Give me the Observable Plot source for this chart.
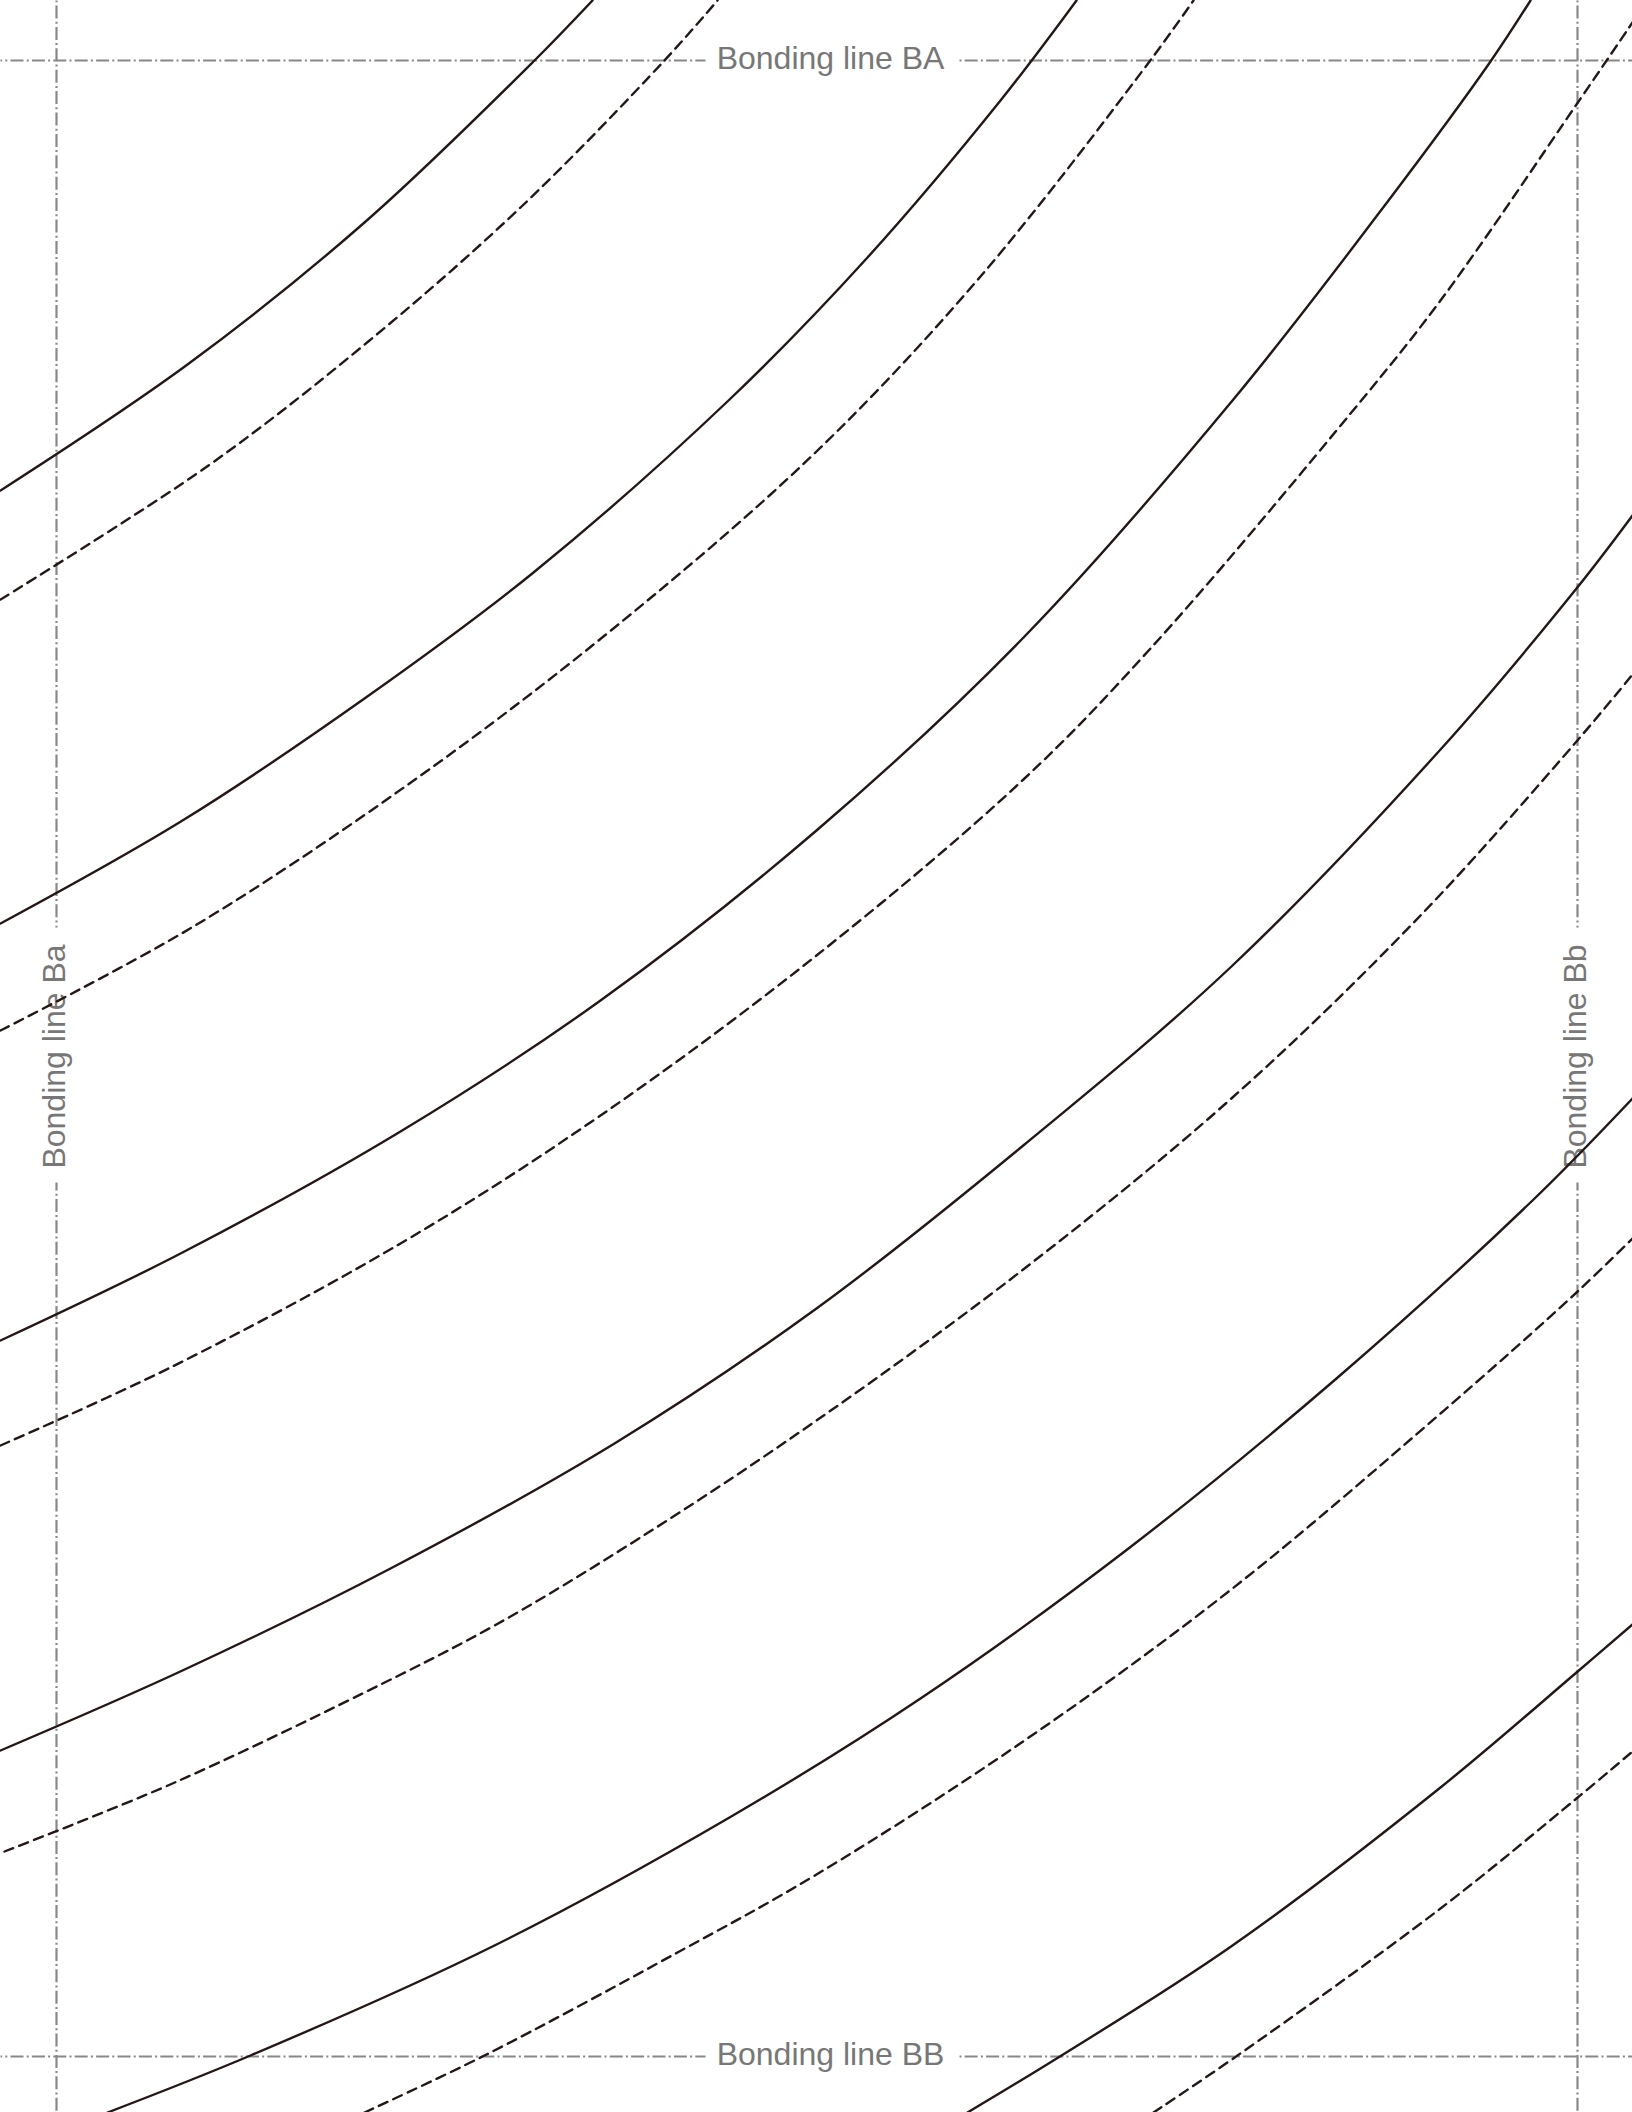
<!DOCTYPE html>
<html><head><meta charset="utf-8">
<script src="https://cdn.jsdelivr.net/npm/d3@7"></script>
<script src="https://cdn.jsdelivr.net/npm/@observablehq/plot@0.6"></script>
<style>html,body{margin:0;padding:0;background:#fff}svg{display:block}</style>
</head><body><div id="chart"></div>
<script>
const solid1X=[0,187,364,533,592];
const solid1Y=[490,364,222,61,0];
const dash1X=[0,208,369,520,663,717];
const dash1Y=[599,465,340,207,61,0];
const solid2X=[0,182,364,533,728,867,1000,1076];
const solid2Y=[923,820,698,572,400,257,100,0];
const dash2X=[0,193,416,619,816,980,1149,1193];
const dash2Y=[1030,926,778,623,451,276,61,0];
const solid3X=[0,182,400,600,816,1024,1232,1388,1490,1530];
const solid3Y=[1340,1252,1131,1000,830,636,400,200,61,0];
const dash3X=[0,172,400,600,816,1024,1150,1336,1440,1576,1632];
const dash3Y=[1445,1366,1243,1115,955,778,648,430,300,104,22];
const solid4X=[0,182,390,614,816,1024,1232,1440,1576,1632];
const solid4Y=[1750,1670,1568,1443,1308,1144,965,749,588,515];
const dash4X=[4,172,364,494,640,816,1024,1232,1420,1576,1632];
const dash4Y=[1851,1783,1692,1625,1537,1420,1268,1097,915,741,674];
const solid5X=[107,250,494,729,920,1128,1336,1532,1632];
const solid5Y=[2112,2055,1945,1817,1698,1548,1378,1200,1098];
const dash5X=[364,484,677,816,1024,1232,1440,1576,1632];
const dash5Y=[2112,2055,1952,1874,1740,1588,1413,1292,1238];
const solid6X=[967,1061,1232,1440,1576,1632];
const solid6Y=[2112,2055,1945,1787,1672,1624];
const dash6X=[1153,1237,1440,1576,1632];
const dash6Y=[2112,2055,1908,1798,1751];

const solidCurves=[[solid1X,solid1Y],[solid2X,solid2Y],[solid3X,solid3Y],[solid4X,solid4Y],[solid5X,solid5Y],[solid6X,solid6Y]];
const dashCurves=[[dash1X,dash1Y],[dash2X,dash2Y],[dash3X,dash3Y],[dash4X,dash4Y],[dash5X,dash5Y],[dash6X,dash6Y]];

const guideLeft=56, guideRight=1577, guideTop=60, guideBottom=2056;
const horizontalSpans=[[0,705,11.4],[959,1632,16.2]];
const verticalSpans=[[0,927,16.4],[1182,2112,5]];
const labelsH=["Bonding line BA","Bonding line BB"];
const labelsV=["Bonding line Ba","Bonding line Bb"];

const grey="#888888", textGrey="#777777", ink="#231815";
const guideDash="13,3.2,2,3.2";
const marks=[];
for(const y of [guideTop,guideBottom]) for(const s of horizontalSpans)
  marks.push(Plot.line(s.slice(0,2),{x:s.slice(0,2),y:()=>y,stroke:grey,strokeWidth:2.2,strokeDasharray:guideDash,strokeDashoffset:s[2],strokeLinecap:"butt"}));
for(const x of [guideLeft,guideRight]) for(const s of verticalSpans)
  marks.push(Plot.line(s.slice(0,2),{x:()=>x,y:s.slice(0,2),stroke:grey,strokeWidth:2.2,strokeDasharray:guideDash,strokeDashoffset:s[2],strokeLinecap:"butt"}));
const textStyle={fill:textGrey,fontSize:32,fontFamily:"'Liberation Sans',Arial,sans-serif",textAnchor:"middle",lineAnchor:"middle",stroke:null};
marks.push(Plot.text(labelsH,{x:()=>830,y:(d,i)=>i?guideBottom-2:guideTop-2,text:d=>d,...textStyle}));
marks.push(Plot.text(labelsV,{x:(d,i)=>i?guideRight-1.5:guideLeft-1.5,y:()=>1056,text:d=>d,rotate:-90,...textStyle}));
for(const [xs,ys] of solidCurves) marks.push(Plot.line(ys,{x:xs,y:ys,stroke:ink,strokeWidth:2.4,curve:"catmull-rom"}));
for(const [xs,ys] of dashCurves) marks.push(Plot.line(ys,{x:xs,y:ys,stroke:ink,strokeWidth:2.4,strokeDasharray:"9.5,6.4",curve:"catmull-rom"}));

document.getElementById("chart").append(Plot.plot({
  width:1632,height:2112,margin:0,
  x:{domain:[0,1632],range:[0,1632],axis:null},
  y:{domain:[0,2112],range:[0,2112],axis:null},
  style:{background:"#fff"},
  marks
}));
</script></body></html>
